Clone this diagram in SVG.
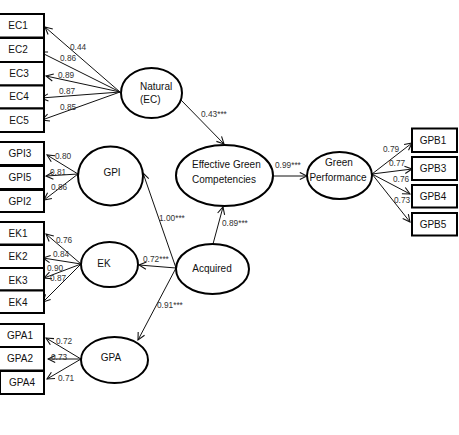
<svg xmlns="http://www.w3.org/2000/svg" width="459" height="435" viewBox="0 0 459 435">
<style>
.box{fill:#fff;stroke:#000;stroke-width:2}
.ell{fill:#fff;stroke:#000;stroke-width:2}
.bt{font-family:"Liberation Sans",Arial,sans-serif;font-size:10px;fill:#111;text-anchor:middle}
.nt{font-family:"Liberation Sans",Arial,sans-serif;font-size:10px;fill:#111}
.lb{font-family:"Liberation Sans",Arial,sans-serif;font-size:8.3px;fill:#333}
.c{stroke:#111;stroke-width:1;fill:none;marker-end:url(#ah)}
</style>
<defs>
<marker id="ah" viewBox="0 0 10 10" refX="9" refY="5" markerWidth="9" markerHeight="9" markerUnits="userSpaceOnUse" orient="auto">
<path d="M1,1 L9,5 L1,9" fill="none" stroke="#111" stroke-width="1.2"/>
</marker>
</defs>
<rect width="459" height="435" fill="#fff"/>

<g id="connectors">
<line class="c" x1="120" y1="92" x2="45" y2="27"/>
<line class="c" x1="120" y1="92" x2="40" y2="52"/>
<line class="c" x1="120" y1="92" x2="46" y2="76"/>
<line class="c" x1="120" y1="92" x2="41" y2="98"/>
<line class="c" x1="120" y1="92" x2="42" y2="120"/>
<line class="c" x1="181" y1="100" x2="224" y2="144"/>
<line class="c" x1="78" y1="174" x2="47" y2="155"/>
<line class="c" x1="78" y1="174" x2="46" y2="176"/>
<line class="c" x1="78" y1="174" x2="44" y2="200"/>
<line class="c" x1="81" y1="264" x2="46" y2="234"/>
<line class="c" x1="81" y1="264" x2="43" y2="258"/>
<line class="c" x1="81" y1="264" x2="44" y2="278"/>
<line class="c" x1="81" y1="264" x2="43" y2="302"/>
<line class="c" x1="81" y1="359" x2="46" y2="338"/>
<line class="c" x1="81" y1="359" x2="48" y2="359"/>
<line class="c" x1="81" y1="359" x2="47" y2="379"/>
<line class="c" x1="176" y1="268" x2="143" y2="173"/>
<line class="c" x1="176" y1="268" x2="139" y2="265"/>
<line class="c" x1="176" y1="268" x2="138" y2="340"/>
<line class="c" x1="213" y1="244" x2="223" y2="207"/>
<line class="c" x1="273" y1="176" x2="307" y2="176"/>
<line class="c" x1="372" y1="174" x2="412" y2="143"/>
<line class="c" x1="372" y1="174" x2="412" y2="169"/>
<line class="c" x1="372" y1="174" x2="410" y2="194"/>
<line class="c" x1="372" y1="174" x2="410" y2="222"/>
</g>

<g id="labels">
<text class="lb" x="70" y="50">0.44</text>
<text class="lb" x="60" y="61">0.86</text>
<text class="lb" x="58" y="78">0.89</text>
<text class="lb" x="59" y="94">0.87</text>
<text class="lb" x="60" y="110">0.85</text>
<text class="lb" x="201" y="117">0.43***</text>
<text class="lb" x="55" y="159">0.80</text>
<text class="lb" x="50" y="175">0.81</text>
<text class="lb" x="51" y="190">0.86</text>
<text class="lb" x="56" y="243">0.76</text>
<text class="lb" x="53" y="257">0.84</text>
<text class="lb" x="47" y="271">0.90</text>
<text class="lb" x="50" y="281">0.87</text>
<text class="lb" x="56" y="344">0.72</text>
<text class="lb" x="51" y="360">0.73</text>
<text class="lb" x="58" y="381">0.71</text>
<text class="lb" x="159" y="221">1.00***</text>
<text class="lb" x="143" y="262">0.72***</text>
<text class="lb" x="157" y="308">0.91***</text>
<text class="lb" x="222" y="226">0.89***</text>
<text class="lb" x="275" y="168">0.99***</text>
<text class="lb" x="383" y="152">0.79</text>
<text class="lb" x="389" y="166">0.77</text>
<text class="lb" x="393" y="182">0.76</text>
<text class="lb" x="394" y="203">0.73</text>
</g>

<g id="EC1"><rect class="box" x="-4" y="14" width="48" height="23.5"/><text class="bt" x="18" y="29">EC1</text></g>
<g id="EC2"><rect class="box" x="-4" y="38" width="48" height="24"/><text class="bt" x="18" y="53">EC2</text></g>
<g id="EC3"><rect class="box" x="-4" y="62" width="48" height="23.5"/><text class="bt" x="19" y="77">EC3</text></g>
<g id="EC4"><rect class="box" x="-4" y="85.5" width="48" height="23"/><text class="bt" x="19" y="100">EC4</text></g>
<g id="EC5"><rect class="box" x="-4" y="108.5" width="48" height="23.5"/><text class="bt" x="19" y="124">EC5</text></g>

<g id="GPI3"><rect class="box" x="-4" y="142" width="48" height="23"/><text class="bt" x="20" y="157">GPI3</text></g>
<g id="GPI5"><rect class="box" x="-4" y="166" width="48" height="23"/><text class="bt" x="20" y="181">GPI5</text></g>
<g id="GPI2"><rect class="box" x="-4" y="190" width="48" height="22"/><text class="bt" x="20" y="205">GPI2</text></g>

<g id="EK1"><rect class="box" x="-4" y="222" width="48" height="22.5"/><text class="bt" x="18" y="237">EK1</text></g>
<g id="EK2"><rect class="box" x="-4" y="245" width="48" height="23"/><text class="bt" x="18" y="260">EK2</text></g>
<g id="EK3"><rect class="box" x="-4" y="268" width="48" height="22.5"/><text class="bt" x="18" y="284">EK3</text></g>
<g id="EK4"><rect class="box" x="-4" y="290.5" width="48" height="22.5"/><text class="bt" x="18" y="306">EK4</text></g>

<g id="GPA1"><rect class="box" x="-4" y="324" width="48" height="23"/><text class="bt" x="20" y="339">GPA1</text></g>
<g id="GPA2"><rect class="box" x="-4" y="347" width="48" height="23.5"/><text class="bt" x="20" y="362">GPA2</text></g>
<g id="GPA4"><rect class="box" x="0" y="371" width="44" height="23"/><text class="bt" x="22" y="386">GPA4</text></g>

<g id="GPB1"><rect class="box" x="412" y="128.5" width="45" height="23.5"/><text class="bt" x="433" y="144">GPB1</text></g>
<g id="GPB3"><rect class="box" x="412" y="157" width="45" height="23"/><text class="bt" x="433" y="172">GPB3</text></g>
<g id="GPB4"><rect class="box" x="412" y="185" width="45" height="22.5"/><text class="bt" x="433" y="200">GPB4</text></g>
<g id="GPB5"><rect class="box" x="412" y="213" width="45" height="22.5"/><text class="bt" x="433" y="228">GPB5</text></g>

<g id="Natural"><ellipse class="ell" cx="151.5" cy="93" rx="30.5" ry="25"/><text class="nt" x="140" y="90">Natural</text><text class="nt" x="140" y="103">(EC)</text></g>
<g id="EGC"><ellipse class="ell" cx="224.5" cy="175.5" rx="48.5" ry="30.5"/><text class="nt" x="192" y="168">Effective Green</text><text class="nt" x="192" y="183">Competencies</text></g>
<g id="GPI"><ellipse class="ell" cx="110.5" cy="176" rx="32.5" ry="29.5"/><text class="nt" x="112" y="176" text-anchor="middle">GPI</text></g>
<g id="EK"><ellipse class="ell" cx="109.5" cy="264.5" rx="28.5" ry="22.5"/><text class="nt" x="104" y="267" text-anchor="middle">EK</text></g>
<g id="Acquired"><ellipse class="ell" cx="212.5" cy="269" rx="36.5" ry="25"/><text class="nt" x="212" y="272" text-anchor="middle">Acquired</text></g>
<g id="GPA"><ellipse class="ell" cx="114.5" cy="360" rx="33.5" ry="23"/><text class="nt" x="111" y="361" text-anchor="middle">GPA</text></g>
<g id="GreenPerformance"><ellipse class="ell" cx="339.5" cy="175.5" rx="32.5" ry="23.5"/><text class="nt" x="339" y="166" text-anchor="middle">Green</text><text class="nt" x="338" y="181" text-anchor="middle">Performance</text></g>
</svg>
